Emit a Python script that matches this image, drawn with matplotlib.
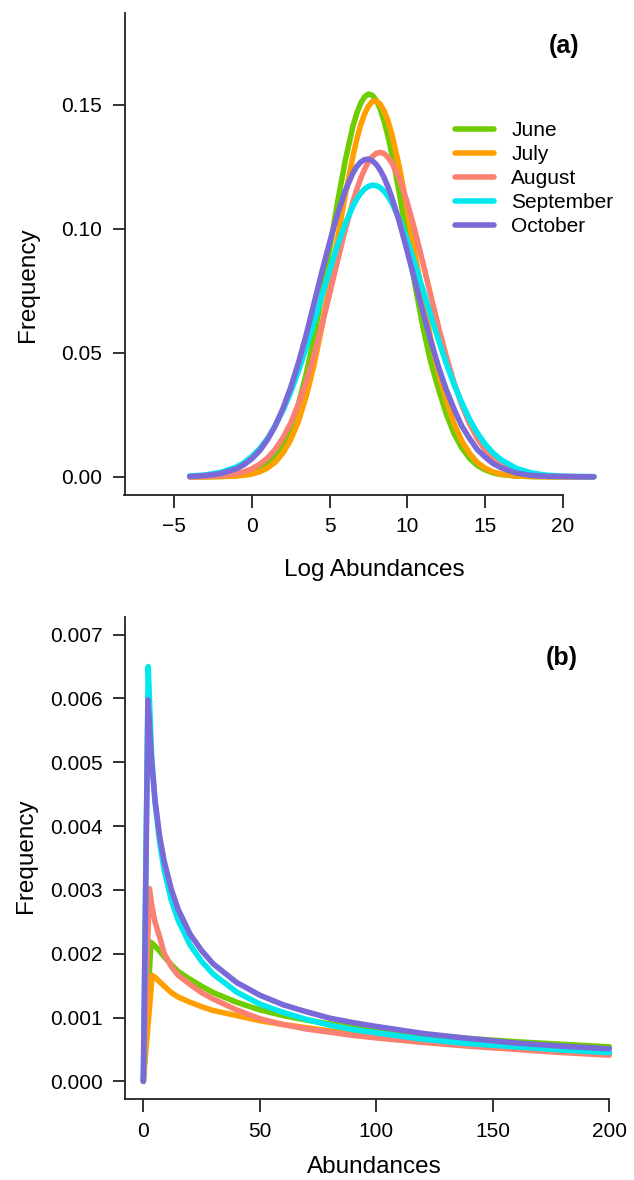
import matplotlib.pyplot as plt

plt.rcParams['font.family'] = ['Liberation Sans', 'DejaVu Sans']

months = ['June', 'July', 'August', 'September', 'October']
colors = ['#6FCC00', '#FFA000', '#FA8072', '#00E8EE', '#7A6AD8']

# panel (a): density of log abundances
log_x = [-4, -3, -2, -1, -0.5, 0, 0.5, 1, 1.5, 2, 2.5, 3, 3.5, 4, 4.5, 5, 5.5,
         6, 6.5, 6.75, 7, 7.25, 7.5, 7.75, 8, 8.25, 8.5, 8.75, 9, 9.5, 10, 10.5,
         11, 11.5, 12, 12.5, 13, 13.5, 14, 14.5, 15, 15.5, 16, 17, 18, 19, 20,
         21, 22]
log_june = [0, 0, 0.0001, 0.0004, 0.0009, 0.0016, 0.0029, 0.0050, 0.0083, 0.0131,
            0.0201, 0.0295, 0.0416, 0.0563, 0.0733, 0.0917, 0.1103, 0.1273,
            0.1413, 0.1466, 0.1506, 0.1532, 0.1543, 0.1538, 0.1518, 0.1484,
            0.1435, 0.1375, 0.1304, 0.1139, 0.0955, 0.0772, 0.0605, 0.0465,
            0.0355, 0.0255, 0.0175, 0.0117, 0.0075, 0.0046, 0.0028, 0.0016,
            0.0009, 0.0003, 0.0001, 0, 0, 0, 0]
log_july = [0, 0, 0.0001, 0.0003, 0.0006, 0.0011, 0.0020, 0.0035, 0.0059, 0.0096,
            0.0150, 0.0225, 0.0326, 0.0452, 0.0604, 0.0775, 0.0956, 0.1134,
            0.1293, 0.1361, 0.1419, 0.1463, 0.1495, 0.1513, 0.1515, 0.1503,
            0.1476, 0.1436, 0.1383, 0.1245, 0.1078, 0.0898, 0.0720, 0.0560,
            0.0420, 0.0310, 0.0215, 0.0145, 0.0095, 0.0058, 0.0035, 0.0020,
            0.0011, 0.0003, 0.0001, 0, 0, 0, 0]
log_august = [0, 0.0001, 0.0004, 0.0013, 0.0020, 0.0032, 0.0050, 0.0075, 0.0110,
              0.0157, 0.0217, 0.0293, 0.0385, 0.0491, 0.0610, 0.0738, 0.0869,
              0.0995, 0.1109, 0.1159, 0.1203, 0.1240, 0.1270, 0.1291, 0.1304,
              0.1308, 0.1303, 0.1289, 0.1267, 0.1200, 0.1105, 0.0990, 0.0864,
              0.0733, 0.0606, 0.0487, 0.0381, 0.0290, 0.0215, 0.0155, 0.0109,
              0.0074, 0.0049, 0.0020, 0.0007, 0.0002, 0.0001, 0, 0]
log_september = [0.0003, 0.0007, 0.0018, 0.0039, 0.0057, 0.0082, 0.0113, 0.0154,
                 0.0206, 0.0268, 0.0342, 0.0427, 0.0522, 0.0623, 0.0728, 0.0832,
                 0.0931, 0.1019, 0.1091, 0.1120, 0.1143, 0.1160, 0.1171, 0.1176,
                 0.1174, 0.1166, 0.1152, 0.1131, 0.1105, 0.1038, 0.0953, 0.0857,
                 0.0755, 0.0652, 0.0552, 0.0458, 0.0373, 0.0300, 0.0232, 0.0177,
                 0.0132, 0.0097, 0.0070, 0.0034, 0.0015, 0.0006, 0.0002, 0.0001,
                 0]
log_october = [0.0001, 0.0005, 0.0013, 0.0032, 0.0049, 0.0073, 0.0105, 0.0149,
               0.0205, 0.0276, 0.0361, 0.0461, 0.0574, 0.0700, 0.0825, 0.0945,
               0.1057, 0.1152, 0.1225, 0.1251, 0.1269, 0.1279, 0.1281, 0.1274,
               0.1260, 0.1237, 0.1207, 0.1170, 0.1127, 0.1025, 0.0908, 0.0787,
               0.0665, 0.0550, 0.0445, 0.0352, 0.0274, 0.0205, 0.0155, 0.0110,
               0.0080, 0.0054, 0.0037, 0.0015, 0.0005, 0.0002, 0.0001, 0, 0]

# panel (b): density of abundances (start + peak points, then a shared grid)
ab_x = [5, 7, 9, 12, 15, 20, 25, 30, 40, 50, 60, 70, 80, 90, 100, 120, 140, 160,
        180, 200]
june_head_x, june_head_y = [0, 3.3], [0, 0.00218]
july_head_x, july_head_y = [0, 3.8], [0, 0.00166]
august_head_x, august_head_y = [0, 2.6, 3.6], [0, 0.00302, 0.00276]
september_head_x, september_head_y = [0, 2.1, 3.5], [0, 0.00650, 0.00514]
october_head_x, october_head_y = [0, 2.0, 3.5], [0, 0.00598, 0.00505]
ab_june = [0.00212, 0.00204, 0.00195, 0.00183, 0.00172, 0.00160, 0.00149, 0.00139,
           0.00124, 0.00112, 0.00103, 0.00096, 0.00090, 0.00085, 0.00081, 0.00073,
           0.00067, 0.00062, 0.00058, 0.00054]
ab_july = [0.00163, 0.00156, 0.00149, 0.00139, 0.00132, 0.00124, 0.00117, 0.00111,
           0.00103, 0.00095, 0.00089, 0.00084, 0.00079, 0.00075, 0.00071, 0.00064,
           0.00058, 0.00053, 0.00048, 0.00044]
ab_august = [0.00250, 0.00226, 0.00200, 0.00180, 0.00166, 0.00152, 0.00139, 0.00129,
             0.00112, 0.00098, 0.00089, 0.00082, 0.00077, 0.00072, 0.00068, 0.00061,
             0.00055, 0.00050, 0.00045, 0.00041]
ab_september = [0.00439, 0.00374, 0.00330, 0.00284, 0.00252, 0.00214, 0.00188,
                0.00168, 0.00140, 0.00121, 0.00108, 0.00097, 0.00088, 0.00081,
                0.00076, 0.00066, 0.00059, 0.00054, 0.00049, 0.00045]
ab_october = [0.00441, 0.00384, 0.00344, 0.00301, 0.00269, 0.00231, 0.00205,
              0.00184, 0.00155, 0.00135, 0.00120, 0.00109, 0.00099, 0.00092,
              0.00086, 0.00075, 0.00067, 0.00060, 0.00055, 0.00051]

W, H = 634, 1180
fig = plt.figure(figsize=(W / 100, H / 100), dpi=100)


def box(left, top, right, bottom):
    # pixel box -> figure fraction
    return [left / W, 1 - bottom / H, (right - left) / W, (bottom - top) / H]


def style(ax):
    ax.spines[['top', 'right']].set_visible(False)
    for s in ('left', 'bottom'):
        ax.spines[s].set_linewidth(1.3)
        ax.spines[s].set_color('#222222')
    ax.tick_params(length=9, width=1.3, pad=7, labelsize=15, color='#222222')


lw = 4.0

# ---- panel (a)
ax1 = fig.add_axes(box(124.5, 12.5, 562.7, 494.6))
log_series = [log_june, log_july, log_august, log_september, log_october]
for name, col, ys in zip(months, colors, log_series):
    ax1.plot(log_x, ys, color=col, lw=lw, label=name, clip_on=False,
             solid_capstyle='round', solid_joinstyle='round')
ax1.set_xlim(-8.2, 20)
ax1.set_ylim(-0.0072, 0.1872)
ax1.set_xticks([-5, 0, 5, 10, 15, 20])
ax1.set_yticks([0, 0.05, 0.10, 0.15])
ax1.set_yticklabels(['0.00', '0.05', '0.10', '0.15'])
style(ax1)
ax1.legend(loc='upper left', bbox_to_anchor=(455 / W, 1 - 121.5 / H),
           bbox_transform=fig.transFigure, frameon=False, fontsize=15,
           handlelength=1.85, handletextpad=0.85, labelspacing=0.24,
           borderpad=0, borderaxespad=0)

# ---- panel (b)
ax2 = fig.add_axes(box(124.7, 616.7, 609.3, 1099.3))
heads = [(june_head_x, june_head_y), (july_head_x, july_head_y),
         (august_head_x, august_head_y), (september_head_x, september_head_y),
         (october_head_x, october_head_y)]
tails = [ab_june, ab_july, ab_august, ab_september, ab_october]
for col, (hx, hy), ys in zip(colors, heads, tails):
    ax2.plot(hx + ab_x, hy + ys, color=col, lw=lw, clip_on=False,
             solid_capstyle='round', solid_joinstyle='round')
ax2.set_xlim(-8, 200)
ax2.set_ylim(-0.000282, 0.007282)
ax2.set_xticks([0, 50, 100, 150, 200])
ax2.set_yticks([0, 0.001, 0.002, 0.003, 0.004, 0.005, 0.006, 0.007])
ax2.set_yticklabels(['0.000', '0.001', '0.002', '0.003', '0.004', '0.005',
                     '0.006', '0.007'])
style(ax2)

# labels placed at their pixel centres
def label(x, y, s, **kw):
    fig.text(x / W, 1 - y / H, s, ha='center', va='center', **kw)


label(28, 285, 'Frequency', rotation=90, fontsize=17.5)
label(374, 570, 'Log Abundances', fontsize=17.5)
label(26, 856, 'Frequency', rotation=90, fontsize=17.5)
label(374, 1167, 'Abundances', fontsize=17.5)
label(564, 46, '(a)', fontsize=18, fontweight='bold')
label(562, 658, '(b)', fontsize=18, fontweight='bold')

fig.savefig('out.png', dpi=100)
